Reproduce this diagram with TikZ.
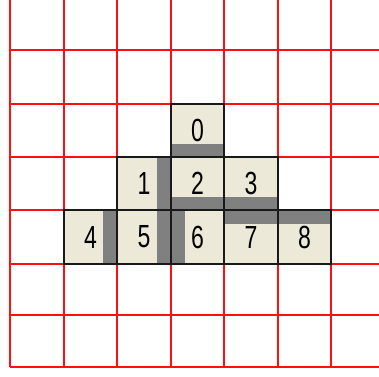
\documentclass[tikz,border=0pt]{standalone}
\usepackage{fontspec}
\setmainfont{Liberation Sans}
\definecolor{cellbg}{HTML}{ECE9D8}
\definecolor{bargrey}{HTML}{808080}
\definecolor{gridred}{HTML}{FF1010}
\begin{document}
\begin{tikzpicture}[x=1pt,y=-1pt,
  gridline/.style={draw=gridred,line width=2pt},
  cell/.style={rectangle,inner sep=0pt,minimum width=53.5pt,minimum height=53.5pt,
    fill=cellbg,draw=black!90,line width=1.8pt,
    font=\fontsize{32}{32}\selectfont},
  barS/.style={path picture={\fill[bargrey] (path picture bounding box.south west) rectangle ([yshift=13.5pt]path picture bounding box.south east);}},
  barN/.style={path picture={\fill[bargrey] (path picture bounding box.north west) rectangle ([yshift=-13.5pt]path picture bounding box.north east);}},
  barE/.style={path picture={\fill[bargrey] (path picture bounding box.north east) rectangle ([xshift=-14pt]path picture bounding box.south east);}},
  barW/.style={path picture={\fill[bargrey] (path picture bounding box.north west) rectangle ([xshift=14pt]path picture bounding box.south west);}}
]
\useasboundingbox (0,0) rectangle (379,376);
% grid
\foreach \gx in {10,64,117,171,224,278,331}
  \draw[gridline] (\gx,0) -- (\gx,367);
\foreach \gy in {50,104,157,210,264,315,367}
  \draw[gridline] (10,\gy) -- (379,\gy);
% cells
\newcommand{\dig}[1]{\scalebox{0.72}[1]{#1}}
\node[cell,barS] (c0) at (197.5,130.5) {\dig{0}};
\node[cell,barE] (c1) at (144,183.5) {\dig{1}};
\node[cell,barS] (c2) at (197.5,183.5) {\dig{2}};
\node[cell,barS] (c3) at (251,183.5) {\dig{3}};
\node[cell,barE] (c4) at (90.5,237) {\dig{4}};
\node[cell,barE] (c5) at (144,237) {\dig{5}};
\node[cell,barW] (c6) at (197.5,237) {\dig{6}};
\node[cell,barN] (c7) at (251,237) {\dig{7}};
\node[cell,barN] (c8) at (304.5,237) {\dig{8}};
\end{tikzpicture}
\end{document}
